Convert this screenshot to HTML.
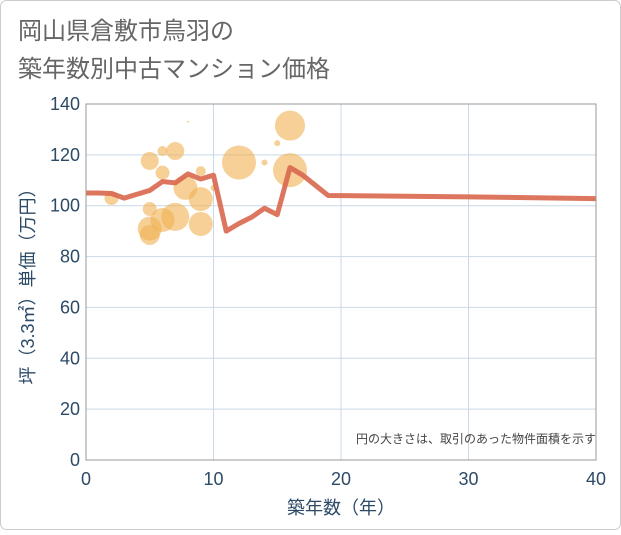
<!DOCTYPE html>
<html><head><meta charset="utf-8"><style>
body{margin:0;background:#fff;}
svg text{font-family:"Liberation Sans","Noto Sans CJK JP",sans-serif;}
</style></head><body>
<svg width="621" height="530" xmlns="http://www.w3.org/2000/svg">
<rect x="0.5" y="0.5" width="620" height="529" rx="6" fill="#fff" stroke="#ccc"/>
<text x="18" y="39" font-size="24" fill="#666">岡山県倉敷市鳥羽の</text>
<text x="18" y="77" font-size="24" fill="#666">築年数別中古マンション価格</text>
<g id="grid"></g>
<g id="bubbles"></g>
<g id="line"></g>
<g id="axes"></g>
<text x="596" y="443" font-size="12" fill="#444" text-anchor="end">円の大きさは、取引のあった物件面積を示す</text>
<text x="341" y="514" font-size="18" fill="#2c4a66" text-anchor="middle">築年数（年）</text>
<text transform="translate(34,282) rotate(-90)" font-size="18" fill="#2c4a66" text-anchor="middle">坪（3.3㎡）単価（万円）</text>
</svg>
<script>
const xTicks=[0,10,20,30,40];
const yTicks=[0,20,40,60,80,100,120,140];
const bubbleX=[2,5,6,7,6,8,9,7.8,9,10,5,7,6,5,5,9,12,14,15,16,16,10];
const bubbleY=[103,117.6,121.5,121.5,113,133,113.6,107,102.6,107,98.7,95.6,94.4,91,88.5,92.8,117,117,124.6,131.5,114,108];
const bubbleR=[7,9,5,9,7,1,5,12,12,3,7,14,12,12,10,12,17,3,3,15,17,1];
const lineX=[0,1,2,3,4,5,6,7,8,9,10,11,12,13,14,15,16,17,18,19,30,40];
const lineY=[105,105,104.8,103,104.5,106,109.5,109,112.5,110.5,112,90,93,95.5,99,96.5,115,112,108,104,103.5,102.8];
const L=86,R=596,T=104,B=460;
const sx=v=>L+(R-L)*v/40, sy=v=>B-(B-T)*v/140;
const NS='http://www.w3.org/2000/svg';
function mk(t,a,p){const e=document.createElementNS(NS,t);for(const k in a)e.setAttribute(k,a[k]);p.appendChild(e);return e;}
const g=document.getElementById('grid'),ax=document.getElementById('axes');
yTicks.forEach(v=>{
 const l=mk('line',{x1:L,x2:R,y1:sy(v),y2:sy(v),stroke:'#c9d9e8','stroke-width':1},g);
 
 
 const t=mk('text',{x:L-6,y:sy(v)+6,'font-size':18,fill:'#2c4a66','text-anchor':'end'},ax);
 t.textContent=v;
 
 
});
xTicks.forEach(v=>{
 const l=mk('line',{x1:sx(v),x2:sx(v),y1:T,y2:B,stroke:'#c9d9e8','stroke-width':1},g);
 
 
 const t=mk('text',{x:sx(v),y:B+25,'font-size':18,fill:'#2c4a66','text-anchor':'middle'},ax);
 t.textContent=v;
 
 
});
const fr=mk('rect',{x:L,y:T,width:R-L,height:B-T,fill:'none',stroke:'#999','stroke-width':1},ax);


const bg=document.getElementById('bubbles');
bubbleX.forEach((x,i)=>{
 const c=mk('circle',{cx:sx(x),cy:sy(bubbleY[i]),r:bubbleR[i],fill:'#f0b050','fill-opacity':0.6},bg);
 
 
});
const p=mk('polyline',{points:lineX.map((x,i)=>sx(x)+','+sy(lineY[i])).join(' '),fill:'none',stroke:'#d9674e','stroke-width':5,'stroke-linejoin':'round','stroke-opacity':0.9},document.getElementById('line'));


</script>
</body></html>
